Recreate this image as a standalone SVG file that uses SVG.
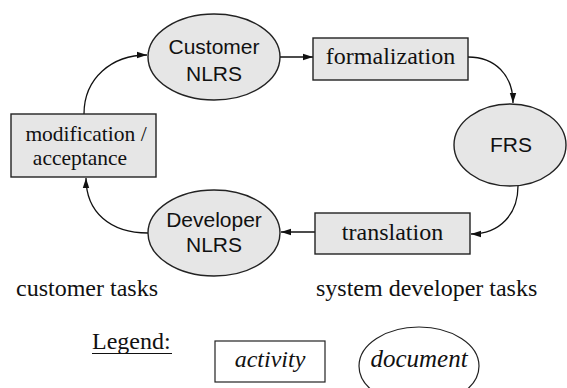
<svg xmlns="http://www.w3.org/2000/svg" width="567" height="388" viewBox="0 0 567 388">
<style>
.shape{fill:#e6e6e6;stroke:#222;stroke-width:1.4}
.plain{fill:#fff;stroke:#222;stroke-width:1.2}
.sans{font-family:"Liberation Sans",Arial,sans-serif;font-size:21px;fill:#111;text-anchor:middle}
.serif{font-family:"Liberation Serif","Times New Roman",serif;font-size:24px;fill:#111}
.mid{text-anchor:middle}
.it{font-style:italic}
.conn{fill:none;stroke:#111;stroke-width:1.3;marker-end:url(#ah)}
</style>
<defs>
<marker id="ah" viewBox="0 0 10 8" refX="10" refY="4" markerWidth="10" markerHeight="8" markerUnits="userSpaceOnUse" orient="auto">
<path d="M0,0.8 L10,4 L0,7.2 Z" fill="#111"/>
</marker>
</defs>
<rect width="567" height="388" fill="#fff"/>
<g id="connectors">
<path class="conn" d="M84,114 C84,78 112,55 147,55"/>
<path class="conn" d="M280,57 L313,57"/>
<path class="conn" d="M468,57 C495,57 513,75 513,103"/>
<path class="conn" d="M518,186 C518,214 500,234 471,234"/>
<path class="conn" d="M315,232 L281,232"/>
<path class="conn" d="M148,233 C110,233 86,212 86,178"/>
</g>
<g id="customer-nlrs">
<ellipse class="shape" cx="214" cy="57" rx="66" ry="43"/>
<text class="sans" x="214" y="54">Customer</text>
<text class="sans" x="214" y="81">NLRS</text>
</g>
<g id="formalization">
<rect class="shape" x="313" y="38" width="155" height="42"/>
<text class="serif mid" x="390.5" y="64">formalization</text>
</g>
<g id="frs">
<ellipse class="shape" cx="510" cy="145" rx="56" ry="41"/>
<text class="sans" x="511" y="152">FRS</text>
</g>
<g id="translation">
<rect class="shape" x="315" y="213" width="155" height="41"/>
<text class="serif mid" x="392.5" y="240">translation</text>
</g>
<g id="developer-nlrs">
<ellipse class="shape" cx="214" cy="233" rx="66" ry="43"/>
<text class="sans" x="214" y="227">Developer</text>
<text class="sans" x="214" y="252">NLRS</text>
</g>
<g id="modification-acceptance">
<rect class="shape" x="11" y="114" width="145" height="63"/>
<text class="serif mid" x="86" y="141" style="font-size:21.5px">modification /</text>
<text class="serif mid" x="80" y="165" style="font-size:21.5px">acceptance</text>
</g>
<g id="labels">
<text class="serif" x="16" y="296">customer tasks</text>
<text class="serif" x="316" y="296">system developer tasks</text>
</g>
<g id="legend">
<text class="serif" x="92" y="349">Legend:</text>
<line x1="92" y1="353.5" x2="172" y2="353.5" stroke="#111" stroke-width="1.2"/>
<rect class="plain" x="215" y="341" width="110" height="41"/>
<text class="serif mid it" x="270" y="367">activity</text>
<ellipse class="plain" cx="419" cy="366" rx="60" ry="39"/>
<text class="serif mid it" x="419" y="367" style="font-size:25px">document</text>
</g>
</svg>
